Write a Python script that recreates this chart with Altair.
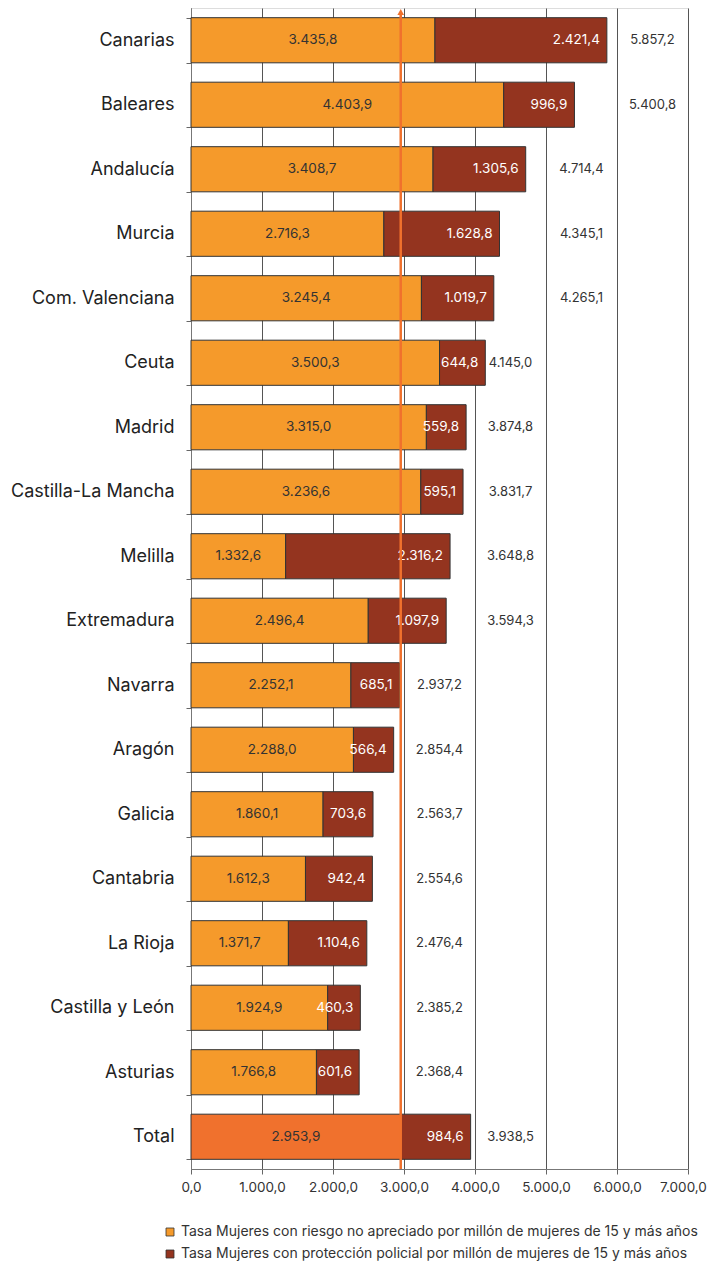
import altair as alt
import pandas as pd

regions = ["Canarias", "Baleares", "Andalucía", "Murcia", "Com. Valenciana", "Ceuta",
           "Madrid", "Castilla-La Mancha", "Melilla", "Extremadura", "Navarra", "Aragón",
           "Galicia", "Cantabria", "La Rioja", "Castilla y León", "Asturias", "Total"]
no_apreciado = [3435.8, 4403.9, 3408.7, 2716.3, 3245.4, 3500.3, 3315.0, 3236.6, 1332.6,
                2496.4, 2252.1, 2288.0, 1860.1, 1612.3, 1371.7, 1924.9, 1766.8, 2953.9]
proteccion = [2421.4, 996.9, 1305.6, 1628.8, 1019.7, 644.8, 559.8, 595.1, 2316.2,
              1097.9, 685.1, 566.4, 703.6, 942.4, 1104.6, 460.3, 601.6, 984.6]
totals = [5857.2, 5400.8, 4714.4, 4345.1, 4265.1, 4145.0, 3874.8, 3831.7, 3648.8,
          3594.3, 2937.2, 2854.4, 2563.7, 2554.6, 2476.4, 2385.2, 2368.4, 3938.5]
media_total = 2953.9

S1 = "Tasa Mujeres con riesgo no apreciado por millón de mujeres de 15 y más años"
S2 = "Tasa Mujeres con protección policial por millón de mujeres de 15 y más años"
S3 = "Total (riesgo no apreciado)"

ORANGE = "#F59A2B"
DARKRED = "#94341F"
TOTALORANGE = "#F0712D"
FONT = "Inter"


def es(v):
    s = f"{v:,.1f}"
    return s.replace(",", "X").replace(".", ",").replace("X", ".")


rows = []
for r, a, b in zip(regions, no_apreciado, proteccion):
    rows.append({"region": r, "serie": S3 if r == "Total" else S1, "start": 0.0, "end": a,
                 "mid": a / 2, "label": es(a), "seg": "a"})
    rows.append({"region": r, "serie": S2, "start": a, "end": a + b,
                 "mid": a + b / 2, "label": es(b), "seg": "b"})
bars_df = pd.DataFrame(rows)
tot_df = pd.DataFrame({"region": regions, "total": totals, "label": [es(t) for t in totals]})

yenc = alt.Y("region:N", sort=regions, title=None,
             scale=alt.Scale(paddingInner=0.3, paddingOuter=0.15),
             axis=alt.Axis(labelFontSize=18, labelColor="#222", labelPadding=12,
                           tickBand="extent", tickSize=5, tickColor="#666",
                           domainColor="#777", grid=False, labelFont=FONT))
xscale = alt.Scale(domain=[0, 7000], nice=False)

bars = alt.Chart(bars_df).mark_bar(stroke="#333", strokeWidth=1).encode(
    y=yenc,
    x=alt.X("start:Q", scale=xscale, title=None,
            axis=alt.Axis(values=[0, 1000, 2000, 3000, 4000, 5000, 6000, 7000],
                          labelExpr="replace(format(datum.value, ',d'), ',', '.') + ',0'",
                          labelFlush=False, labelOverlap=False,
                          labelOffset={"condition": {"test": "datum.value == 7000", "value": -5},
                                       "value": 0},
                          grid=True, gridColor="#555", gridWidth=1, tickSize=5,
                          tickColor="#666", domainColor="#777", labelFontSize=13.5,
                          labelColor="#333", labelPadding=6, labelFont=FONT)),
    x2="end:Q",
    color=alt.Color("serie:N",
                    scale=alt.Scale(domain=[S1, S2, S3], range=[ORANGE, DARKRED, TOTALORANGE]),
                    legend=alt.Legend(values=[S1, S2], title=None, orient="none",
                                      legendX=-28, legendY=1217, symbolType="square",
                                      symbolSize=64, symbolStrokeColor="#333",
                                      symbolStrokeWidth=0.8, labelFontSize=14,
                                      labelColor="#333", labelLimit=700, rowPadding=8,
                                      labelFont=FONT, labelOffset=4)),
)

lab_a = alt.Chart(bars_df).transform_filter("datum.seg == 'a'").mark_text(
    fontSize=13.5, color="#333", font=FONT).encode(
    y=alt.Y("region:N", sort=regions), x=alt.X("mid:Q", scale=xscale), text="label:N")

lab_b = alt.Chart(bars_df).transform_filter("datum.seg == 'b'").mark_text(
    fontSize=13.5, color="white", align="right", dx=-7, font=FONT).encode(
    y=alt.Y("region:N", sort=regions), x=alt.X("end:Q", scale=xscale), text="label:N")

lab_t = alt.Chart(tot_df).transform_calculate(
    pos="floor((datum.total + 800) / 1000) * 1000 + 500").mark_text(
    fontSize=13, color="#333", font=FONT).encode(
    y=alt.Y("region:N", sort=regions), x=alt.X("pos:Q", scale=xscale), text="label:N")

line_df = pd.DataFrame({"v": [media_total]})
vline = alt.Chart(line_df).mark_rule(color=TOTALORANGE, strokeWidth=2.5).encode(
    x=alt.X("v:Q", scale=xscale), y=alt.value(6), y2=alt.value(1161))
arrow = alt.Chart(line_df).mark_point(shape="triangle-up", filled=True, opacity=1,
                                      color=TOTALORANGE, size=45).encode(
    x=alt.X("v:Q", scale=xscale), y=alt.value(4))

chart = alt.layer(bars, lab_a, lab_b, lab_t, vline, arrow).properties(
    width=497, height=1161,
    autosize=alt.AutoSizeParams(type="none"),
    padding={"left": 183, "top": 0, "right": 20, "bottom": 92},
).configure_view(stroke=None).configure(font=FONT)

chart.save("out.html", embed_options={"renderer": "svg", "actions": False})
